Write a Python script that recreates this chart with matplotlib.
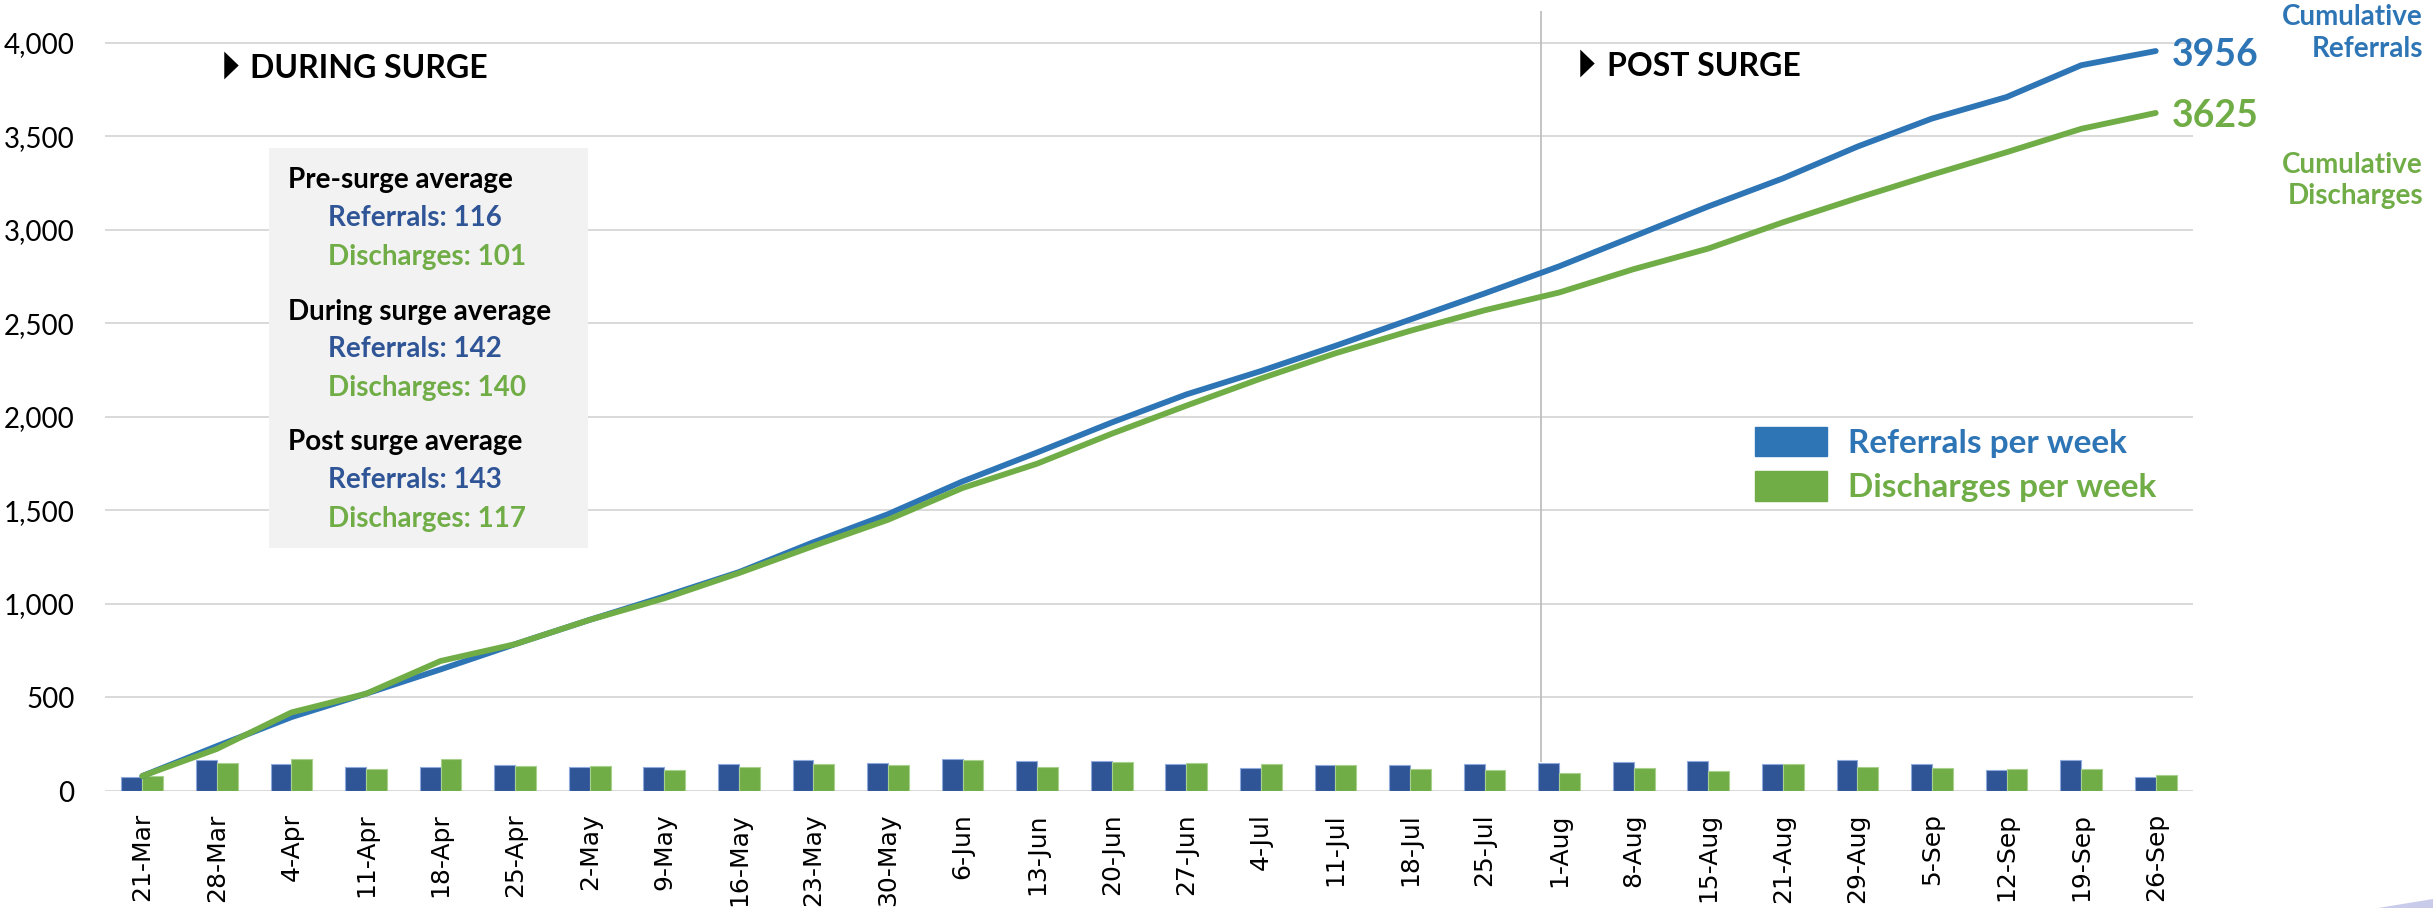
import numpy as np
import matplotlib
matplotlib.use("Agg")
import matplotlib.pyplot as plt
from matplotlib.patches import Rectangle, Polygon, Patch

W, H = 2433, 908

weeks = ["21-Mar", "28-Mar", "4-Apr", "11-Apr", "18-Apr", "25-Apr", "2-May",
         "9-May", "16-May", "23-May", "30-May", "6-Jun", "13-Jun", "20-Jun",
         "27-Jun", "4-Jul", "11-Jul", "18-Jul", "25-Jul", "1-Aug", "8-Aug",
         "15-Aug", "21-Aug", "29-Aug", "5-Sep", "12-Sep", "19-Sep", "26-Sep"]

referrals = [75, 168, 146, 127, 129, 137, 127, 129, 143, 164, 148, 170, 159, 159,
             145, 121, 137, 139, 143, 148, 157, 159, 146, 166, 145, 114, 166, 75]
discharges = [78, 152, 170, 120, 170, 132, 136, 112, 129, 143, 141, 164, 127, 157,
              148, 145, 139, 116, 111, 96, 121, 105, 143, 127, 125, 116, 120, 84]

cum_referrals = [80, 240, 395, 520, 650, 785, 915, 1040, 1170, 1330, 1480, 1655, 1810, 1970,
                 2120, 2245, 2380, 2520, 2660, 2805, 2965, 3125, 3275, 3445, 3595, 3710, 3880, 3956]
cum_discharges = [80, 225, 420, 520, 695, 785, 915, 1030, 1165, 1310, 1450, 1620, 1750, 1910,
                  2060, 2205, 2340, 2460, 2570, 2665, 2790, 2900, 3040, 3170, 3295, 3415, 3540, 3625]

surge_end = "1-Aug"

BAR_BLUE = "#2F5597"
LINE_BLUE = "#2E75B6"
GREEN = "#70AD47"


def fx(px):
    return px / W


def fy(py):
    return 1 - py / H


fig = plt.figure(figsize=(W / 100, H / 100), dpi=100)
ax = fig.add_axes([fx(105), fy(791), fx(2193) - fx(105), (791 - 11) / H])
ax.patch.set_alpha(0)

x = np.arange(len(weeks))
bw = 0.28
ax.bar(x - bw / 2, referrals, bw, color=BAR_BLUE, edgecolor="#8FAADC", linewidth=0.8, zorder=2)
ax.bar(x + bw / 2, discharges, bw, color=GREEN, edgecolor="#A9D18E", linewidth=0.8, zorder=2)
ax.plot(x, cum_referrals, color=LINE_BLUE, lw=4.2, solid_capstyle="round", zorder=3)
ax.plot(x, cum_discharges, color=GREEN, lw=4.2, solid_capstyle="round", zorder=4)

ax.set_xlim(-0.5, len(weeks) - 0.5)
ax.set_ylim(0, 4170)
ax.set_yticks(np.arange(0, 4001, 500))
ax.set_yticklabels([f"{v:,}" for v in range(0, 4001, 500)], fontfamily="Lato", fontsize=20)
ax.set_xticks(x)
ax.set_xticklabels(weeks, rotation=90, fontfamily="DejaVu Sans", fontsize=18, va="top")
ax.tick_params(axis="both", length=0)
ax.tick_params(axis="x", pad=16)
ax.tick_params(axis="y", pad=22)
ax.grid(axis="y", color="#D9D9D9", lw=1.4, zorder=0)
ax.set_axisbelow(True)
for s in ax.spines.values():
    s.set_visible(False)

ix = weeks.index(surge_end)
ax.vlines(ix - 0.25, 155, 4170, color="#BFBFBF", lw=1.3, zorder=1)

# period headings
tri = [(-0.52, -1), (0.52, 0), (-0.52, 1)]
fig.add_artist(plt.Line2D([fx(231)], [fy(65)], marker=tri, markersize=20, color="black",
                          markeredgewidth=0, lw=0))
fig.text(fx(250), fy(78), "DURING SURGE", fontfamily="Lato", fontweight="bold", fontsize=23, va="baseline")
fig.add_artist(plt.Line2D([fx(1587)], [fy(63)], marker=tri, markersize=20, color="black",
                          markeredgewidth=0, lw=0))
fig.text(fx(1607), fy(76), "POST SURGE", fontfamily="Lato", fontweight="bold", fontsize=23, va="baseline")

# averages box
box = Rectangle((fx(269), fy(548)), fx(588) - fx(269), (548 - 148) / H,
                transform=fig.transFigure, color="#F2F2F2", lw=0)
box.set_zorder(1)
fig.add_artist(box)
box_lines = [
    (288, 188, "Pre-surge average", "black"),
    (328, 226, "Referrals: 116", BAR_BLUE),
    (328, 265, "Discharges: 101", GREEN),
    (288, 320, "During surge average", "black"),
    (328, 357, "Referrals: 142", BAR_BLUE),
    (328, 396, "Discharges: 140", GREEN),
    (288, 450, "Post surge average", "black"),
    (328, 488, "Referrals: 143", BAR_BLUE),
    (328, 527, "Discharges: 117", GREEN),
]
for px, py, txt, col in box_lines:
    fig.text(fx(px), fy(py), txt, color=col, fontfamily="Lato", fontweight="bold",
             fontsize=20, va="baseline", zorder=5)

# end labels
fig.text(fx(2172), fy(66), f"{cum_referrals[-1]}", color=LINE_BLUE, fontfamily="Lato",
         fontweight="bold", fontsize=27, va="baseline")
fig.text(fx(2172), fy(127), f"{cum_discharges[-1]}", color=GREEN, fontfamily="Lato",
         fontweight="bold", fontsize=27, va="baseline")
fig.text(fx(2423), fy(25), "Cumulative", color=LINE_BLUE, fontfamily="Lato", fontweight="bold",
         fontsize=20, ha="right", va="baseline")
fig.text(fx(2423), fy(57), "Referrals", color=LINE_BLUE, fontfamily="Lato", fontweight="bold",
         fontsize=20, ha="right", va="baseline")
fig.text(fx(2423), fy(173), "Cumulative", color=GREEN, fontfamily="Lato", fontweight="bold",
         fontsize=20, ha="right", va="baseline")
fig.text(fx(2423), fy(204), "Discharges", color=GREEN, fontfamily="Lato", fontweight="bold",
         fontsize=20, ha="right", va="baseline")

handles = [Patch(color=LINE_BLUE), Patch(color=GREEN)]
fig.legend(handles, ["Referrals per week", "Discharges per week"],
           loc="upper left", bbox_to_anchor=(fx(1755), fy(427)), frameon=False,
           prop={"family": "Lato", "weight": "bold", "size": 24},
           labelcolor=[LINE_BLUE, GREEN], handlelength=2.15, handleheight=0.97,
           handletextpad=0.64, labelspacing=0.4, borderpad=0, borderaxespad=0)

# faint corner swoosh
fig.add_artist(Polygon([(fx(2378), fy(908)), (fx(2433), fy(899)), (fx(2433), fy(908))],
                       closed=True, transform=fig.transFigure, color="#C9CBEB", lw=0))

fig.savefig("out.png", dpi=100, facecolor="white")
